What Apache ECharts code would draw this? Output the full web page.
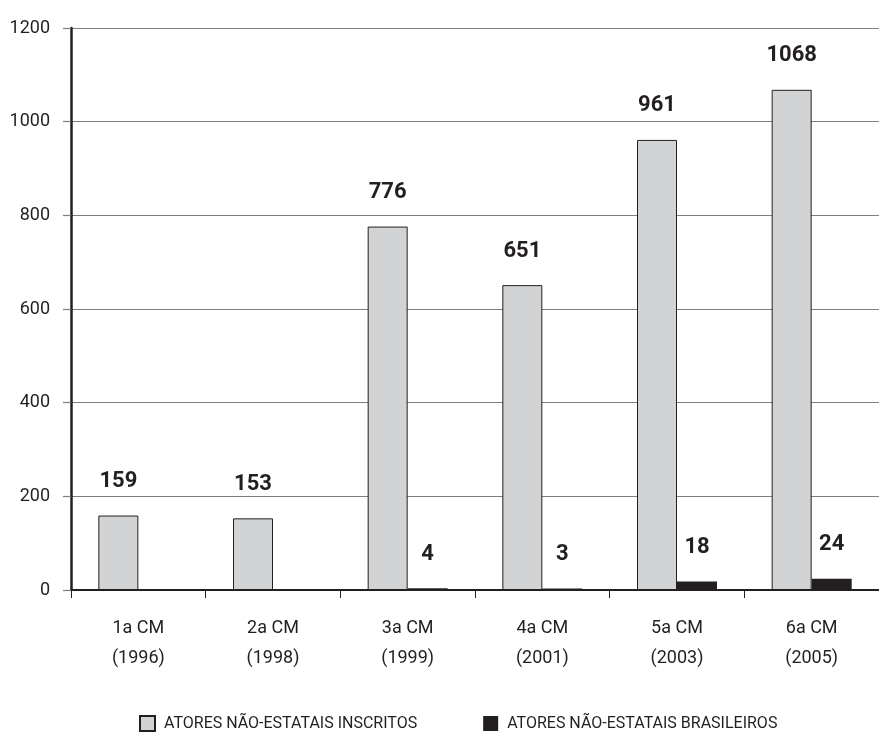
<!DOCTYPE html>
<html>
<head>
<meta charset="utf-8">
<script src="https://cdn.jsdelivr.net/npm/echarts@6/dist/echarts.min.js"></script>
<style>
  html, body { margin: 0; padding: 0; background: #fff; }
  #chart { width: 879px; height: 733px; }
</style>
</head>
<body>
<div id="chart"></div>
<script>
// categorias e anos (eixo x)
var categorias = ['1a CM', '2a CM', '3a CM', '4a CM', '5a CM', '6a CM'];
var anos = ['(1996)', '(1998)', '(1999)', '(2001)', '(2003)', '(2005)'];
// series
var inscritos = [159, 153, 776, 651, 961, 1068];
var brasileiros = [null, null, 4, 3, 18, 24];
var nomes = ['ATORES NÃO-ESTATAIS INSCRITOS', 'ATORES NÃO-ESTATAIS BRASILEIROS'];

var fonte = 'Roboto, "DejaVu Sans", sans-serif';
var myChart = echarts.init(document.getElementById('chart'));

var option = {
  animation: false,
  textStyle: { fontFamily: fonte },
  grid: { left: 71, top: 28, width: 822, height: 562 },
  legend: {
    left: 134,
    top: 710,
    itemWidth: 15,
    itemHeight: 15,
    itemGap: 66,
    icon: 'rect',
    textStyle: { fontSize: 16, color: '#231f20', fontFamily: fonte, padding: [0, 0, 0, 4] },
    data: nomes
  },
  xAxis: {
    type: 'category',
    data: categorias,
    axisLine: { lineStyle: { color: '#231f20', width: 2 } },
    axisTick: { show: true, length: 8, lineStyle: { color: '#231f20', width: 1 } },
    axisLabel: {
      margin: 23,
      fontSize: 18,
      lineHeight: 30,
      color: '#231f20',
      formatter: function (v, i) { return v + '\n' + anos[i]; }
    }
  },
  yAxis: {
    type: 'value',
    min: 0,
    max: 1200,
    interval: 200,
    axisLine: { show: true, lineStyle: { color: '#231f20', width: 2.5 } },
    axisTick: { show: true, length: 8, lineStyle: { color: '#7f7f7f', width: 1.2 } },
    splitLine: { lineStyle: { color: '#7f7f7f', width: 1.2 } },
    axisLabel: {
      margin: 21, fontSize: 18, color: '#231f20',
      formatter: function (v) { return String(v); }
    }
  },
  series: [
    {
      name: nomes[0],
      type: 'bar',
      data: inscritos,
      barWidth: 40,
      barGap: '0%',
      itemStyle: { color: '#d1d3d4', borderColor: '#231f20', borderWidth: 1 },
      label: {
        show: true, position: 'top', distance: 23,
        fontSize: 22, fontWeight: 'bold', color: '#231f20'
      }
    },
    {
      name: nomes[1],
      type: 'bar',
      data: brasileiros,
      barWidth: 40,
      itemStyle: { color: '#231f20' },
      label: {
        show: true, position: 'top', distance: 23,
        fontSize: 22, fontWeight: 'bold', color: '#231f20'
      }
    }
  ]
};

myChart.setOption(option);
</script>
</body>
</html>
